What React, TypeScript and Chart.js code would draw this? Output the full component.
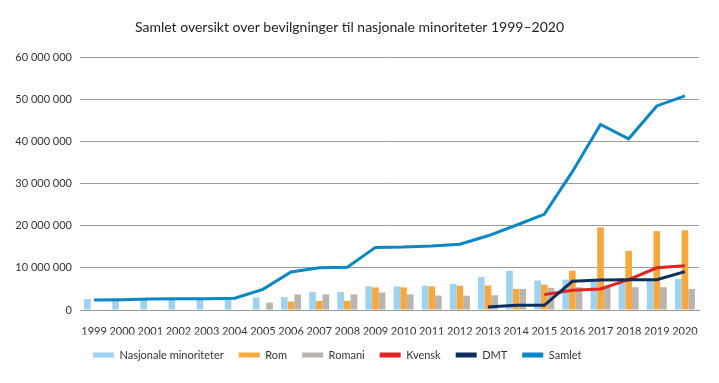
import React, { useEffect, useRef } from 'react';
import { Chart, registerables } from 'chart.js';

Chart.register(...registerables);

const years = ['1999', '2000', '2001', '2002', '2003', '2004', '2005', '2006', '2007', '2008', '2009', '2010', '2011', '2012', '2013', '2014', '2015', '2016', '2017', '2018', '2019', '2020'];

const nasjonaleMinoriteter = [2600000, 2400000, 2700000, 2800000, 2800000, 2800000, 3000000, 3050000, 4300000, 4300000, 5600000, 5600000, 5750000, 6200000, 7800000, 9300000, 7000000, 7200000, 7200000, 7500000, 7400000, 7400000];
const rom = [null, null, null, null, null, null, null, 2000000, 2150000, 2150000, 5350000, 5350000, 5600000, 5750000, 5800000, 5000000, 6000000, 9300000, 19600000, 14000000, 18700000, 18900000];
const romani = [null, null, null, null, null, null, 1750000, 3700000, 3700000, 3700000, 4150000, 3700000, 3400000, 3400000, 3500000, 5000000, 5250000, 5400000, 5300000, 5400000, 5400000, 5000000];
const kvensk = [null, null, null, null, null, null, null, null, null, null, null, null, null, null, null, null, 3650000, 4700000, 5000000, 7200000, 10000000, 10500000];
const dmt = [null, null, null, null, null, null, null, null, null, null, null, null, null, null, 700000, 1100000, 1100000, 6800000, 7100000, 7200000, 7200000, 9100000];
const samlet = [2400000, 2450000, 2600000, 2650000, 2650000, 2800000, 4900000, 9000000, 10000000, 10150000, 14850000, 14950000, 15200000, 15600000, 17600000, 20100000, 22700000, 32800000, 44000000, 40600000, 48400000, 50800000];

const titleText = 'Samlet oversikt over bevilgninger til nasjonale minoriteter 1999–2020';

const C_NASJ = '#9dd2f1';
const C_ROM = '#f6a83e';
const C_ROMANI = '#b9b5ae';
const C_KVENSK = '#e3231f';
const C_DMT = '#0c2f5c';
const C_SAMLET = '#0a87c5';

const fmt = (v: number) => String(v).replace(/\B(?=(\d{3})+(?!\d))/g, ' ');

const legendShift = {
  id: 'legendShift',
  afterLayout(chart: any) {
    if (chart.legend) {
      chart.legend.left = 78;
    }
  },
};

export default function App() {
  const ref = useRef<HTMLCanvasElement>(null);
  useEffect(() => {
    const font = 'Lato';
    const chart = new Chart(ref.current as HTMLCanvasElement, {
      type: 'bar',
      data: {
        labels: years,
        datasets: [
          { type: 'bar', label: 'Nasjonale minoriteter', data: nasjonaleMinoriteter, backgroundColor: C_NASJ, order: 10, categoryPercentage: 0.71, barPercentage: 1 },
          { type: 'bar', label: 'Rom', data: rom, backgroundColor: C_ROM, order: 10, categoryPercentage: 0.71, barPercentage: 1 },
          { type: 'bar', label: 'Romani', data: romani, backgroundColor: C_ROMANI, order: 10, categoryPercentage: 0.71, barPercentage: 1 },
          { type: 'line', label: 'Kvensk', data: kvensk, borderColor: C_KVENSK, backgroundColor: C_KVENSK, borderWidth: 3, pointRadius: 0, tension: 0, fill: false, order: 3 },
          { type: 'line', label: 'DMT', data: dmt, borderColor: C_DMT, backgroundColor: C_DMT, borderWidth: 3, pointRadius: 0, tension: 0, fill: false, order: 2 },
          { type: 'line', label: 'Samlet', data: samlet, borderColor: C_SAMLET, backgroundColor: C_SAMLET, borderWidth: 3, pointRadius: 0, tension: 0, fill: false, order: 1 },
        ] as any,
      },
      plugins: [legendShift],
      options: {
        responsive: false,
        animation: false,
        events: [],
        layout: { padding: { left: 0, right: 20, top: 0, bottom: 12.5 } },
        font: { family: font },
        plugins: {
          title: {
            display: true,
            text: titleText,
            color: '#222',
            font: { family: font, size: 14, weight: 'normal', lineHeight: 1.2 },
            padding: { top: 19.5, bottom: 20.7 },
          },
          legend: {
            position: 'bottom',
            align: 'start',
            labels: {
              boxWidth: 21,
              boxHeight: 5,
              padding: 15,
              color: '#333',
              font: { family: font, size: 11 },
              sort: (a: any, b: any) => a.datasetIndex - b.datasetIndex,
              generateLabels: (ch: any) =>
                Chart.defaults.plugins.legend.labels.generateLabels(ch).map((l: any) => ({
                  ...l,
                  lineWidth: 0,
                  fillStyle: l.datasetIndex >= 3 ? l.strokeStyle : l.fillStyle,
                })),
            },
          },
          tooltip: { enabled: false },
        },
        scales: {
          x: {
            grid: { display: false },
            border: { display: true, color: '#999', width: 1 },
            ticks: { color: '#333', font: { family: font, size: 11 }, padding: 7, maxRotation: 0, autoSkip: false },
            afterFit: (s: any) => { s.height = 24.5; },
          },
          y: {
            min: 0,
            max: 60000000,
            border: { display: false },
            grid: { color: '#9a9a9a', drawTicks: false, lineWidth: 1 },
            ticks: { stepSize: 10000000, color: '#333', font: { family: font, size: 11 }, padding: 8, callback: (v: any) => fmt(Number(v)) },
            afterFit: (s: any) => { s.width = 80; },
          },
        },
      } as any,
    });
    return () => chart.destroy();
  }, []);
  return (
    <div style={{ position: 'fixed', left: 0, top: 0, width: 719, height: 383, background: '#fff' }}>
      <canvas ref={ref} width={719} height={383} style={{ display: 'block', width: 719, height: 383 }} />
    </div>
  );
}
